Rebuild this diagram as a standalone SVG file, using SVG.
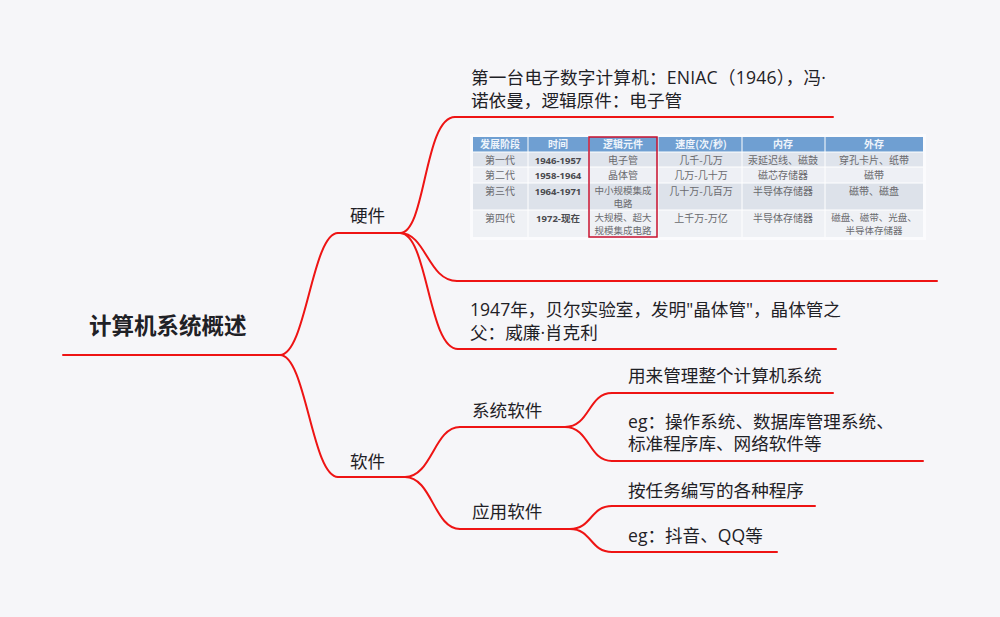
<svg xmlns="http://www.w3.org/2000/svg" width="1000" height="617" viewBox="0 0 1000 617">
<style>
.t{font-family:"Open Sans","Noto Sans CJK SC",sans-serif;font-size:17.6px;fill:#1f2126}
.root{font-family:"Noto Sans CJK SC",sans-serif;font-size:22.5px;font-weight:bold;fill:#1f2126}
.ln{stroke:#ee1414;stroke-width:2;fill:none;stroke-linecap:round}
.th{font-family:"Noto Sans CJK SC",sans-serif;font-size:10px;fill:#eef4fb;font-weight:bold;text-anchor:middle}
.td{font-family:"Noto Sans CJK SC",sans-serif;font-size:10px;fill:#6a6a6e;text-anchor:middle}
.td2{font-family:"Noto Sans CJK SC",sans-serif;font-size:9.5px;fill:#6a6a6e;text-anchor:middle}
.tb{font-family:"Open Sans","Noto Sans CJK SC",sans-serif;font-size:9.5px;fill:#4a4a4e;font-weight:bold;text-anchor:middle}
</style>
<rect width="1000" height="617" fill="#f6f6f9"/>
<g id="connectors">
<path class="ln" d="M280,355 C306,355 312,233 338,233"/>
<path class="ln" d="M280,355 C306,355 312,477 338,477"/>
<path class="ln" d="M400,233 C426,233 424,117 455,117"/>
<path class="ln" d="M400,233 C426,233 428,281 457,281"/>
<path class="ln" d="M400,233 C428,233 428,349 458,349"/>
<path class="ln" d="M405,477 C432,477 434,427 460,427"/>
<path class="ln" d="M405,477 C432,477 434,529 460,529"/>
<path class="ln" d="M565,427 C590,427 588,393 612,393"/>
<path class="ln" d="M565,427 C590,427 588,461 612,461"/>
<path class="ln" d="M570,529 C592,529 590,506 612,506"/>
<path class="ln" d="M570,529 C592,529 590,552 612,552"/>
</g>
<g id="root">
<line class="ln" x1="63" y1="355" x2="280" y2="355"/>
<text class="root" x="89" y="334">计算机系统概述</text>
</g>
<g id="hardware">
<line class="ln" x1="338" y1="233" x2="400" y2="233"/>
<text class="t" x="350" y="222">硬件</text>
</g>
<g id="software">
<line class="ln" x1="338" y1="477" x2="405" y2="477"/>
<text class="t" x="350" y="468">软件</text>
</g>
<g id="eniac">
<line class="ln" x1="455" y1="117" x2="833" y2="117"/>
<text class="t" x="471" y="84" letter-spacing="0.2">第一台电子数字计算机：ENIAC（1946），冯·</text>
<text class="t" x="471" y="107">诺依曼，逻辑原件：电子管</text>
</g>
<g id="table">
<line class="ln" x1="457" y1="281" x2="937" y2="281"/>
<rect x="470" y="134" width="456" height="106" fill="#fbfbfd"/>
<rect x="473" y="137" width="450" height="15" fill="#6f9fd2"/>
<rect x="473" y="152" width="450" height="15" fill="#dfe4ec"/>
<rect x="473" y="167" width="450" height="16" fill="#eef0f5"/>
<rect x="473" y="183" width="450" height="27" fill="#dde2ea"/>
<rect x="473" y="210" width="450" height="27" fill="#eff1f5"/>
<g stroke="#ffffff" stroke-width="1">
<line x1="473" y1="152" x2="923" y2="152"/>
<line x1="473" y1="167" x2="923" y2="167"/>
<line x1="473" y1="183" x2="923" y2="183"/>
<line x1="473" y1="210" x2="923" y2="210"/>
<line x1="528" y1="137" x2="528" y2="237"/>
<line x1="589" y1="137" x2="589" y2="237"/>
<line x1="658" y1="137" x2="658" y2="237"/>
<line x1="742" y1="137" x2="742" y2="237"/>
<line x1="825" y1="137" x2="825" y2="237"/>
</g>
<text class="th" x="500" y="148">发展阶段</text>
<text class="th" x="558" y="148">时间</text>
<text class="th" x="623" y="148">逻辑元件</text>
<text class="th" x="701" y="148">速度(次/秒)</text>
<text class="th" x="783" y="148">内存</text>
<text class="th" x="874" y="148">外存</text>
<text class="td" x="500" y="164">第一代</text>
<text class="tb" x="558" y="164">1946-1957</text>
<text class="td" x="623" y="164">电子管</text>
<text class="td" x="701" y="164">几千-几万</text>
<text class="td" x="783" y="164">汞延迟线、磁鼓</text>
<text class="td" x="874" y="164">穿孔卡片、纸带</text>
<text class="td" x="500" y="179">第二代</text>
<text class="tb" x="558" y="179">1958-1964</text>
<text class="td" x="623" y="179">晶体管</text>
<text class="td" x="701" y="179">几万-几十万</text>
<text class="td" x="783" y="179">磁芯存储器</text>
<text class="td" x="874" y="179">磁带</text>
<text class="td" x="500" y="195">第三代</text>
<text class="tb" x="558" y="195">1964-1971</text>
<text class="td2" x="623" y="194">中小规模集成</text>
<text class="td2" x="623" y="207">电路</text>
<text class="td" x="701" y="195">几十万-几百万</text>
<text class="td" x="783" y="195">半导体存储器</text>
<text class="td" x="874" y="195">磁带、磁盘</text>
<text class="td" x="500" y="222">第四代</text>
<text class="tb" x="558" y="222">1972-现在</text>
<text class="td2" x="623" y="221">大规模、超大</text>
<text class="td2" x="623" y="234">规模集成电路</text>
<text class="td" x="701" y="222">上千万-万亿</text>
<text class="td" x="783" y="222">半导体存储器</text>
<text class="td2" x="874" y="221">磁盘、磁带、光盘、</text>
<text class="td2" x="874" y="234">半导体存储器</text>
<rect x="589" y="137" width="68" height="100" fill="none" stroke="#c8102e" stroke-width="1.5"/>
</g>
<g id="bell">
<line class="ln" x1="458" y1="349" x2="836" y2="349"/>
<text class="t" x="470" y="316">1947年，贝尔实验室，发明"晶体管"，晶体管之</text>
<text class="t" x="470" y="339">父：威廉·肖克利</text>
</g>
<g id="syssoft">
<line class="ln" x1="460" y1="427" x2="565" y2="427"/>
<text class="t" x="472" y="417">系统软件</text>
</g>
<g id="appsoft">
<line class="ln" x1="460" y1="529" x2="570" y2="529"/>
<text class="t" x="472" y="518">应用软件</text>
</g>
<g id="sys1">
<line class="ln" x1="612" y1="393" x2="833" y2="393"/>
<text class="t" x="628" y="382">用来管理整个计算机系统</text>
</g>
<g id="sys2">
<line class="ln" x1="612" y1="461" x2="923" y2="461"/>
<text class="t" x="628" y="428">eg：操作系统、数据库管理系统、</text>
<text class="t" x="628" y="450">标准程序库、网络软件等</text>
</g>
<g id="app1">
<line class="ln" x1="612" y1="506" x2="815" y2="506"/>
<text class="t" x="628" y="497">按任务编写的各种程序</text>
</g>
<g id="app2">
<line class="ln" x1="612" y1="552" x2="777" y2="552"/>
<text class="t" x="628" y="542">eg：抖音、QQ等</text>
</g>
</svg>
